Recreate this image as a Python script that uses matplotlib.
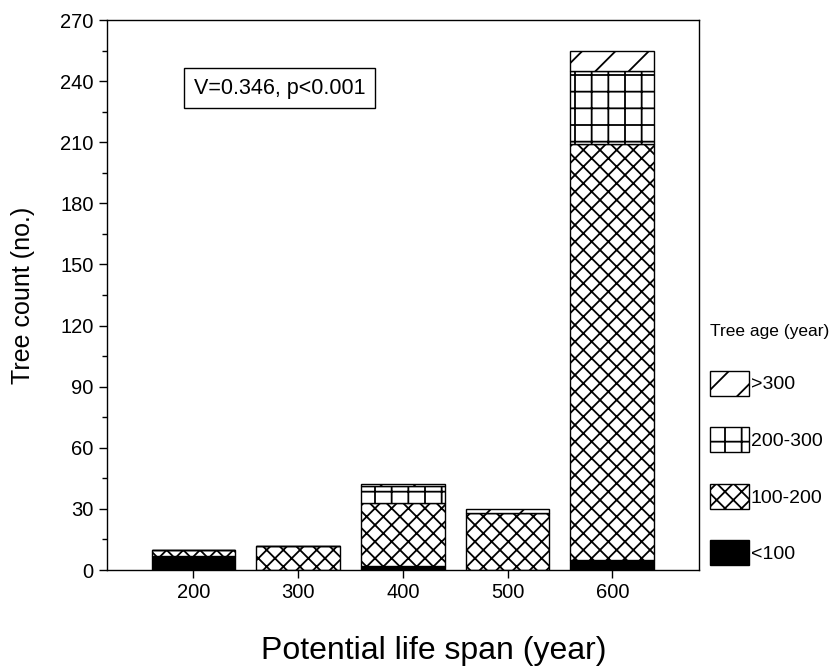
import matplotlib
matplotlib.use("Agg")
import matplotlib.pyplot as plt
import numpy as np
from matplotlib.ticker import MultipleLocator

# ---- data ----
categories = [200, 300, 400, 500, 600]
lt100 = [7, 0, 2, 0, 5]
a100_200 = [3, 12, 31, 28, 204]
a200_300 = [0, 0, 8, 0, 36]
gt300 = [0, 0, 1, 2, 10]
series_labels = ["<100", "100-200", "200-300", ">300"]
yticks = [0, 30, 60, 90, 120, 150, 180, 210, 240, 270]

plt.rcParams['font.family'] = ['Liberation Sans', 'DejaVu Sans']
plt.rcParams['hatch.linewidth'] = 1.3
plt.rcParams['hatch.color'] = 'black'

fig = plt.figure(figsize=(8.35, 6.72), dpi=100)
ax = fig.add_axes([107/835, 1-570/672, (699-107)/835, (570-20)/672])

series = [lt100, a100_200, a200_300, gt300]
styles = [dict(facecolor='black', hatch=None),
          dict(facecolor='white', hatch='xx'),
          dict(facecolor='white', hatch='+'),
          dict(facecolor='white', hatch='/')]
bottom = np.zeros(len(categories))
handles = []
for vals, st, lab in zip(series, styles, series_labels):
    bc = ax.bar(categories, vals, width=80, bottom=bottom, edgecolor='black',
                linewidth=1.0, label=lab, **st)
    handles.append(bc)
    bottom = bottom + np.array(vals)

ax.set_xlim(117.4, 682.8)
ax.set_ylim(0, 270)
ax.set_xticks(categories)
ax.set_yticks(yticks)
ax.yaxis.set_minor_locator(MultipleLocator(15))
ax.tick_params(axis='both', which='major', direction='out', length=6, width=1,
               labelsize=14.5, top=False, right=False)
ax.tick_params(axis='y', which='minor', direction='out', length=3.5, width=1)
for s in ax.spines.values():
    s.set_linewidth(1.0)

ax.set_ylabel("Tree count (no.)", fontsize=18)
ax.set_xlabel("Potential life span (year)", fontsize=23)
ax.yaxis.set_label_coords(-(107-35)/592, 0.5)
ax.xaxis.set_label_coords((434-107)/592, -(636-570)/550)

ax.text(0.292, 0.876, "V=0.346, p<0.001", transform=ax.transAxes,
        ha='center', va='center', fontsize=15.5,
        bbox=dict(boxstyle='square,pad=0.45', facecolor='white',
                  edgecolor='black', linewidth=1.0))

leg = fig.legend(handles=handles[::-1], labels=series_labels[::-1],
                 title="Tree age (year)", loc='upper left',
                 bbox_to_anchor=(710/835, 1-324/672), frameon=False,
                 fontsize=14, title_fontsize=12.5, borderpad=0, borderaxespad=0,
                 handlelength=2.0, handleheight=1.59, handletextpad=0.1,
                 labelspacing=1.63, alignment='left')

fig.savefig("out.png", dpi=100)
